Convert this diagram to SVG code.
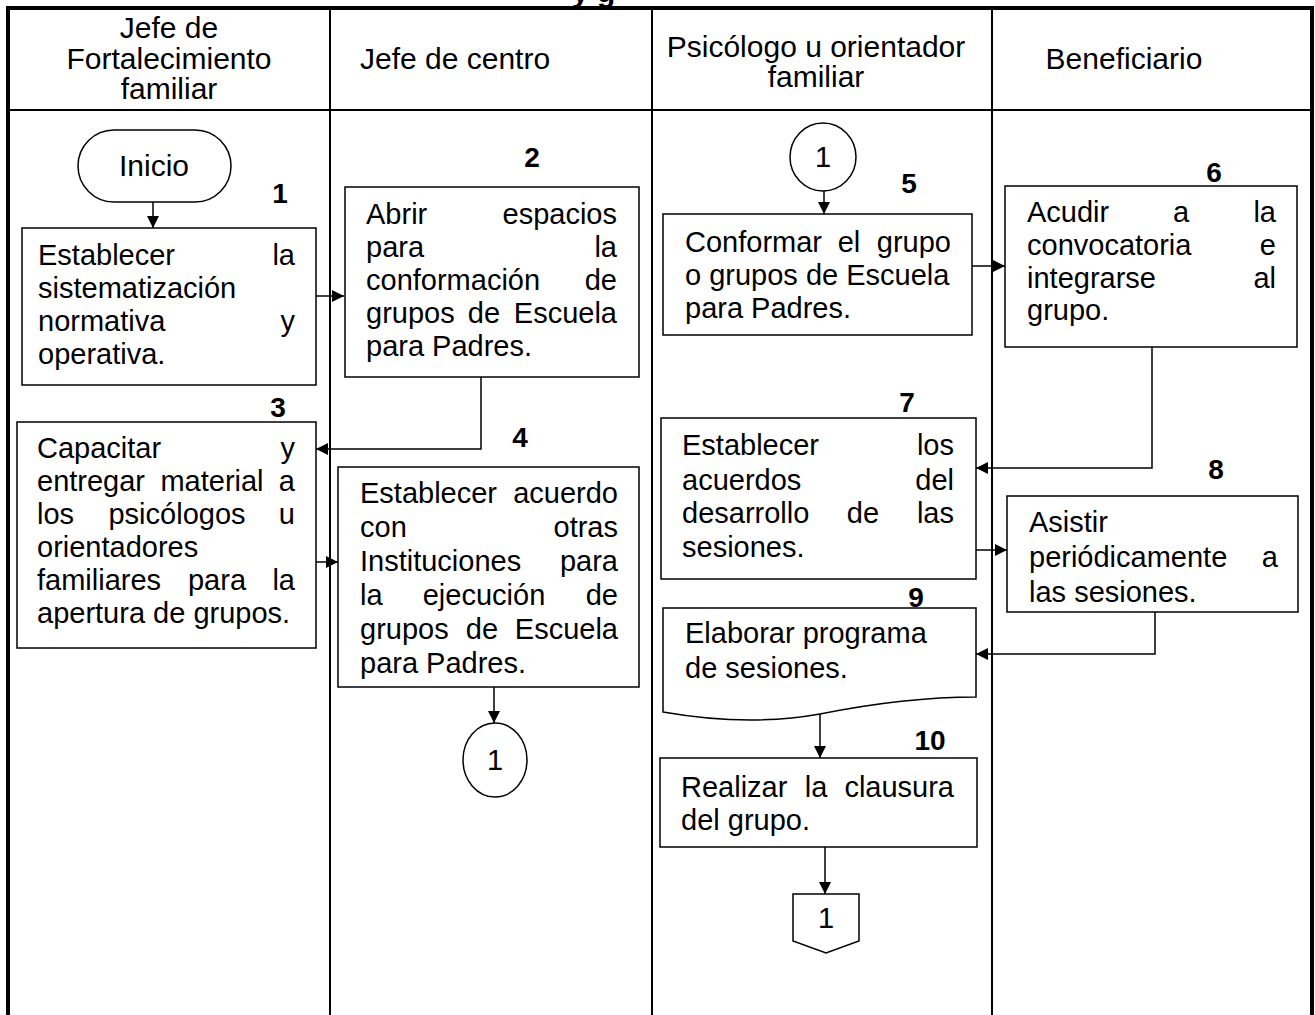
<svg xmlns="http://www.w3.org/2000/svg" width="1315" height="1015" viewBox="0 0 1315 1015">
<style>
.t{font-family:"Liberation Sans",Arial,sans-serif;font-size:29px;fill:#000}
.h{font-family:"Liberation Sans",Arial,sans-serif;font-size:30px;fill:#000}
.e{text-anchor:end}
.m{text-anchor:middle}
.n{font-family:"Liberation Sans",Arial,sans-serif;font-size:28px;font-weight:bold;fill:#000;text-anchor:middle}
.box{fill:#fff;stroke:#000;stroke-width:1.5}
.c{fill:none;stroke:#000;stroke-width:1.5;marker-end:url(#arr)}
.frame{stroke:#000;fill:none}
</style>
<defs>
<marker id="arr" viewBox="0 0 12 12" markerWidth="12" markerHeight="12" refX="12" refY="6" orient="auto" markerUnits="userSpaceOnUse">
<path d="M0,0 L12,6 L0,12 z" fill="#000"/>
</marker>
</defs>
<rect width="1315" height="1015" fill="#fff"/>
<text class="h" x="572" y="2" font-weight="bold">y g</text>
<g id="table">
<line class="frame" x1="6" y1="8" x2="1314" y2="8" stroke-width="4"/>
<line class="frame" x1="8" y1="6" x2="8" y2="1015" stroke-width="4"/>
<line class="frame" x1="1312" y1="6" x2="1312" y2="1015" stroke-width="4"/>
<line class="frame" x1="8" y1="110" x2="1312" y2="110" stroke-width="2"/>
<line class="frame" x1="330" y1="8" x2="330" y2="1015" stroke-width="2"/>
<line class="frame" x1="652" y1="8" x2="652" y2="1015" stroke-width="2"/>
<line class="frame" x1="992" y1="8" x2="992" y2="1015" stroke-width="2"/>
<text class="h m" x="169" y="38">Jefe de</text>
<text class="h m" x="169" y="69">Fortalecimiento</text>
<text class="h m" x="169" y="99">familiar</text>
<text class="h" x="360" y="69">Jefe de centro</text>
<text class="h m" x="816" y="57">Psicólogo u orientador</text>
<text class="h m" x="816" y="87">familiar</text>
<text class="h m" x="1124" y="69">Beneficiario</text>
</g>
<g id="connectors">
<line class="c" x1="153" y1="202" x2="153" y2="228"/>
<line class="c" x1="316" y1="296" x2="344" y2="296"/>
<polyline class="c" points="481,377 481,449 316,449"/>
<line class="c" x1="316" y1="562" x2="338" y2="562"/>
<line class="c" x1="494" y1="687" x2="494" y2="723"/>
<line class="c" x1="824" y1="190" x2="824" y2="214"/>
<line class="c" x1="972" y1="266" x2="1005" y2="266"/>
<polyline class="c" points="1152,347 1152,468 976,468"/>
<line class="c" x1="976" y1="550" x2="1007" y2="550"/>
<polyline class="c" points="1155,612 1155,654 976,654"/>
<line class="c" x1="820" y1="714" x2="820" y2="758"/>
<line class="c" x1="825" y1="847" x2="825" y2="894"/>
</g>
<g id="inicio">
<rect class="box" x="78" y="130" width="153" height="72" rx="36" ry="36"/>
<text class="h m" x="154" y="176">Inicio</text>
</g>
<g id="n1">
<text class="n" x="280" y="203">1</text>
<rect class="box" x="22" y="228" width="294" height="157"/>
<text class="t" x="38" y="265">Establecer</text><text class="t e" x="295" y="265">la</text>
<text class="t" x="38" y="298">sistematización</text>
<text class="t" x="38" y="331">normativa</text><text class="t e" x="295" y="331">y</text>
<text class="t" x="38" y="364">operativa.</text>
</g>
<g id="n2">
<text class="n" x="532" y="167">2</text>
<rect class="box" x="345" y="187" width="294" height="190"/>
<text class="t" x="366" y="224">Abrir</text><text class="t e" x="617" y="224">espacios</text>
<text class="t" x="366" y="257">para</text><text class="t e" x="617" y="257">la</text>
<text class="t" x="366" y="290">conformación</text><text class="t e" x="617" y="290">de</text>
<text class="t" x="366" y="323">grupos</text><text class="t m" x="484" y="323">de</text><text class="t e" x="617" y="323">Escuela</text>
<text class="t" x="366" y="356">para Padres.</text>
</g>
<g id="n3">
<text class="n" x="278" y="417">3</text>
<rect class="box" x="17" y="422" width="299" height="226"/>
<text class="t" x="37" y="458">Capacitar</text><text class="t e" x="295" y="458">y</text>
<text class="t" x="37" y="491">entregar</text><text class="t m" x="212" y="491">material</text><text class="t e" x="295" y="491">a</text>
<text class="t" x="37" y="524">los</text><text class="t m" x="177" y="524">psicólogos</text><text class="t e" x="295" y="524">u</text>
<text class="t" x="37" y="557">orientadores</text>
<text class="t" x="37" y="590">familiares</text><text class="t m" x="217" y="590">para</text><text class="t e" x="295" y="590">la</text>
<text class="t" x="37" y="623">apertura de grupos.</text>
</g>
<g id="n4">
<text class="n" x="520" y="447">4</text>
<rect class="box" x="338" y="467" width="301" height="220"/>
<text class="t" x="360" y="503">Establecer</text><text class="t e" x="618" y="503">acuerdo</text>
<text class="t" x="360" y="537">con</text><text class="t e" x="618" y="537">otras</text>
<text class="t" x="360" y="571">Instituciones</text><text class="t e" x="618" y="571">para</text>
<text class="t" x="360" y="605">la</text><text class="t m" x="484" y="605">ejecución</text><text class="t e" x="618" y="605">de</text>
<text class="t" x="360" y="639">grupos</text><text class="t m" x="482" y="639">de</text><text class="t e" x="618" y="639">Escuela</text>
<text class="t" x="360" y="673">para Padres.</text>
</g>
<g id="c1a">
<ellipse class="box" cx="495" cy="760" rx="32" ry="37"/>
<text class="t m" x="495" y="770">1</text>
</g>
<g id="c1b">
<ellipse class="box" cx="823" cy="157" rx="33" ry="34"/>
<text class="t m" x="823" y="167">1</text>
</g>
<g id="n5">
<text class="n" x="909" y="193">5</text>
<rect class="box" x="663" y="214" width="309" height="121"/>
<text class="t" x="685" y="252">Conformar</text><text class="t m" x="849" y="252">el</text><text class="t e" x="951" y="252">grupo</text>
<text class="t" x="685" y="285">o grupos de Escuela</text>
<text class="t" x="685" y="318">para Padres.</text>
</g>
<g id="n6">
<text class="n" x="1214" y="182">6</text>
<rect class="box" x="1005" y="186" width="292" height="161"/>
<text class="t" x="1027" y="222">Acudir</text><text class="t m" x="1181" y="222">a</text><text class="t e" x="1276" y="222">la</text>
<text class="t" x="1027" y="255">convocatoria</text><text class="t e" x="1276" y="255">e</text>
<text class="t" x="1027" y="288">integrarse</text><text class="t e" x="1276" y="288">al</text>
<text class="t" x="1027" y="320">grupo.</text>
</g>
<g id="n7">
<text class="n" x="907" y="412">7</text>
<rect class="box" x="661" y="418" width="315" height="161"/>
<text class="t" x="682" y="455">Establecer</text><text class="t e" x="954" y="455">los</text>
<text class="t" x="682" y="490">acuerdos</text><text class="t e" x="954" y="490">del</text>
<text class="t" x="682" y="523">desarrollo</text><text class="t m" x="863" y="523">de</text><text class="t e" x="954" y="523">las</text>
<text class="t" x="682" y="557">sesiones.</text>
</g>
<g id="n8">
<text class="n" x="1216" y="479">8</text>
<rect class="box" x="1007" y="496" width="291" height="116"/>
<text class="t" x="1029" y="532">Asistir</text>
<text class="t" x="1029" y="567">periódicamente</text><text class="t e" x="1278" y="567">a</text>
<text class="t" x="1029" y="602">las sesiones.</text>
</g>
<g id="n9">
<text class="n" x="916" y="607">9</text>
<path class="box" d="M663,608 H976 V697 C930,697 880,702 820,714 C770,723 720,722 663,712 Z"/>
<text class="t" x="685" y="643">Elaborar programa</text>
<text class="t" x="685" y="678">de sesiones.</text>
</g>
<g id="n10">
<text class="n" x="930" y="750">10</text>
<rect class="box" x="660" y="758" width="317" height="89"/>
<text class="t" x="681" y="797">Realizar</text><text class="t m" x="816" y="797">la</text><text class="t e" x="954" y="797">clausura</text>
<text class="t" x="681" y="830">del grupo.</text>
</g>
<g id="offpage">
<path class="box" d="M793,894 H859 V941 L826,953 L793,941 Z"/>
<text class="t m" x="826" y="928">1</text>
</g>
</svg>
